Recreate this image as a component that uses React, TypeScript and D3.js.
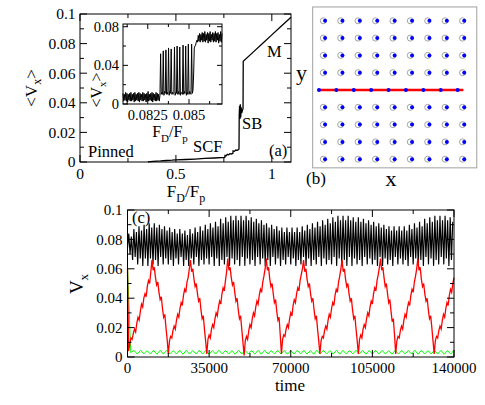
import React from 'react';
import * as d3 from 'd3';

// ---- panel (a): <Vx> vs FD/Fp ----
const fdMain = [0.354, 0.38, 0.40, 0.42, 0.45, 0.48, 0.50, 0.55, 0.60, 0.65, 0.70, 0.755, 0.756, 0.762, 0.768, 0.775,
  0.782, 0.79, 0.797, 0.798, 0.805, 0.812, 0.82, 0.828, 0.829, 0.830, 0.832, 0.834, 0.836, 0.838, 0.840, 0.843,
  0.847, 0.850, 0.851, 0.90, 0.95, 1.00, 1.05, 1.10];
const vxMain = [0.0001, 0.0004, 0.0006, 0.0007, 0.001, 0.0012, 0.0014, 0.0017, 0.0020, 0.0024, 0.0027, 0.0031, 0.0045,
  0.0042, 0.0052, 0.0049, 0.0056, 0.0054, 0.0058, 0.0075, 0.0072, 0.0081, 0.0079, 0.0085, 0.0095, 0.031, 0.038, 0.029,
  0.039, 0.030, 0.037, 0.033, 0.035, 0.036, 0.068, 0.0739, 0.0799, 0.0859, 0.0919, 0.0978];

// inset: <Vx> sampled every insetStep starting at insetStart
const insetStart = 0.081;
const insetStep = 0.00004;
const insetVx = [
  0.011, 0.003, 0.010, 0.004, 0.012, 0.003, 0.011, 0.002, 0.010, 0.004,
  0.011, 0.003, 0.012, 0.003, 0.010, 0.004, 0.011, 0.002, 0.012, 0.003,
  0.010, 0.004, 0.011, 0.003, 0.012, 0.002, 0.011, 0.004, 0.010, 0.003,
  0.012, 0.003, 0.011, 0.004, 0.010, 0.002, 0.011, 0.003, 0.013, 0.003,
  0.010, 0.004, 0.011, 0.003, 0.012, 0.002, 0.011, 0.004, 0.010, 0.003,
  0.012, 0.003, 0.011, 0.004, 0.010, 0.003,
  0.009, 0.052, 0.010, 0.012,
  0.010, 0.055, 0.009, 0.013, 0.011,
  0.056, 0.010, 0.012, 0.010,
  0.058, 0.009, 0.013, 0.011,
  0.057, 0.010, 0.012, 0.010, 0.011,
  0.059, 0.009, 0.012, 0.011,
  0.060, 0.010, 0.013, 0.010,
  0.059, 0.009, 0.012, 0.011, 0.010,
  0.061, 0.010, 0.013, 0.011,
  0.060, 0.009, 0.012, 0.010,
  0.062, 0.010, 0.013, 0.011, 0.010,
  0.062, 0.011, 0.014, 0.030, 0.058, 0.060,
  0.061, 0.064, 0.066, 0.064, 0.071, 0.065, 0.073, 0.064, 0.072, 0.066,
  0.074, 0.064, 0.073, 0.065, 0.075, 0.064, 0.072, 0.066, 0.074, 0.063,
  0.073, 0.065, 0.075, 0.064, 0.072, 0.066, 0.074, 0.064, 0.073, 0.065,
  0.075, 0.064, 0.073, 0.066, 0.074, 0.063, 0.072, 0.065, 0.075, 0.064,
  0.073,
];

// ---- panel (b): lattice picture, in pinning-lattice units ----
const pinCols = [0, 1, 2, 3, 4, 5, 6, 7, 8];
const pinRows = [-4, -3, -2, -1, 1, 2, 3, 4];
const vortexShift = 0.1;
const chainX = [-0.25, 0.75, 1.75, 2.75, 3.75, 4.75, 5.75, 6.75, 7.72];
const chainLine = [-0.29, 8.05];

// ---- panel (c): Vx vs time ----
const blackCycle = 1093.75; // low at k*cycle, high half a cycle later
const blackLow = [
  0.074, 0.070, 0.066, 0.068, 0.063, 0.067, 0.062, 0.067,
  0.062, 0.067, 0.063, 0.066, 0.062, 0.068, 0.063, 0.067,
  0.063, 0.066, 0.062, 0.067, 0.063, 0.068, 0.062, 0.066,
  0.062, 0.067, 0.063, 0.068, 0.062, 0.066, 0.063, 0.067,
  0.063, 0.068, 0.062, 0.067, 0.062, 0.066, 0.063, 0.068,
  0.062, 0.067, 0.063, 0.066, 0.062, 0.068, 0.062, 0.067,
  0.063, 0.066, 0.062, 0.068, 0.063, 0.067, 0.062, 0.066,
  0.062, 0.068, 0.063, 0.067, 0.062, 0.066, 0.063, 0.068,
  0.063, 0.067, 0.062, 0.066, 0.063, 0.068, 0.062, 0.067,
  0.062, 0.066, 0.063, 0.068, 0.062, 0.067, 0.063, 0.066,
  0.063, 0.068, 0.062, 0.067, 0.063, 0.066, 0.062, 0.068,
  0.062, 0.067, 0.063, 0.066, 0.062, 0.068, 0.063, 0.067,
  0.063, 0.066, 0.062, 0.068, 0.062, 0.067, 0.063, 0.066,
  0.062, 0.068, 0.063, 0.067, 0.063, 0.066, 0.062, 0.068,
  0.063, 0.067, 0.062, 0.066, 0.062, 0.068, 0.063, 0.067,
  0.062, 0.066, 0.063, 0.068, 0.063, 0.067, 0.062, 0.066,
];
const blackHigh = [
  0.084, 0.082, 0.087, 0.085, 0.089, 0.086, 0.090, 0.087,
  0.091, 0.088, 0.091, 0.088, 0.090, 0.087, 0.089, 0.086,
  0.088, 0.085, 0.087, 0.084, 0.087, 0.084, 0.086, 0.083,
  0.087, 0.084, 0.088, 0.085, 0.089, 0.086, 0.090, 0.087,
  0.091, 0.088, 0.092, 0.089, 0.094, 0.091, 0.095, 0.092,
  0.096, 0.093, 0.096, 0.093, 0.096, 0.093, 0.096, 0.093,
  0.095, 0.092, 0.094, 0.091, 0.093, 0.090, 0.091, 0.088,
  0.090, 0.087, 0.089, 0.086, 0.088, 0.085, 0.088, 0.085,
  0.088, 0.085, 0.088, 0.085, 0.089, 0.086, 0.090, 0.087,
  0.091, 0.088, 0.092, 0.089, 0.093, 0.090, 0.094, 0.091,
  0.095, 0.092, 0.096, 0.093, 0.096, 0.093, 0.096, 0.093,
  0.095, 0.092, 0.095, 0.092, 0.094, 0.091, 0.093, 0.090,
  0.092, 0.089, 0.091, 0.088, 0.090, 0.087, 0.089, 0.086,
  0.089, 0.086, 0.089, 0.086, 0.089, 0.086, 0.090, 0.087,
  0.091, 0.088, 0.092, 0.089, 0.094, 0.091, 0.095, 0.092,
  0.096, 0.093, 0.096, 0.093, 0.096, 0.093, 0.095, 0.092,
];

const redStep = 500;
const redVx = [
  0.060, 0.004, 0.009, 0.013, 0.012, 0.016, 0.019, 0.017, 0.023, 0.027,
  0.025, 0.031, 0.036, 0.034, 0.040, 0.043, 0.041, 0.048, 0.052, 0.050,
  0.058, 0.066, 0.059, 0.061, 0.054, 0.049, 0.051, 0.044, 0.039, 0.041,
  0.033, 0.027, 0.029, 0.020, 0.012, 0.002, 0.011, 0.014, 0.013, 0.018,
  0.021, 0.019, 0.025, 0.029, 0.027, 0.033, 0.037, 0.035, 0.042, 0.046,
  0.044, 0.051, 0.054, 0.060, 0.066, 0.058, 0.060, 0.053, 0.048, 0.050,
  0.043, 0.038, 0.040, 0.032, 0.026, 0.028, 0.019, 0.011, 0.002, 0.012,
  0.015, 0.013, 0.019, 0.022, 0.020, 0.026, 0.030, 0.028, 0.034, 0.038,
  0.036, 0.043, 0.047, 0.045, 0.052, 0.058, 0.067, 0.059, 0.061, 0.054,
  0.049, 0.051, 0.044, 0.038, 0.040, 0.032, 0.026, 0.028, 0.019, 0.010,
  0.001, 0.011, 0.014, 0.012, 0.018, 0.022, 0.020, 0.026, 0.030, 0.028,
  0.034, 0.038, 0.036, 0.042, 0.046, 0.044, 0.051, 0.055, 0.060, 0.067,
  0.059, 0.061, 0.053, 0.048, 0.050, 0.043, 0.037, 0.039, 0.031, 0.025,
  0.027, 0.015, 0.002, 0.012, 0.015, 0.014, 0.019, 0.022, 0.020, 0.026,
  0.030, 0.028, 0.035, 0.039, 0.037, 0.043, 0.047, 0.045, 0.052, 0.056,
  0.060, 0.066, 0.058, 0.060, 0.053, 0.048, 0.050, 0.043, 0.038, 0.040,
  0.032, 0.026, 0.028, 0.019, 0.011, 0.002, 0.011, 0.014, 0.013, 0.018,
  0.021, 0.019, 0.025, 0.029, 0.027, 0.033, 0.037, 0.035, 0.042, 0.046,
  0.044, 0.051, 0.055, 0.060, 0.066, 0.058, 0.060, 0.053, 0.048, 0.050,
  0.043, 0.038, 0.040, 0.032, 0.026, 0.028, 0.019, 0.011, 0.002, 0.012,
  0.015, 0.013, 0.019, 0.022, 0.020, 0.026, 0.030, 0.028, 0.034, 0.038,
  0.036, 0.043, 0.047, 0.045, 0.052, 0.056, 0.061, 0.067, 0.059, 0.061,
  0.054, 0.048, 0.050, 0.043, 0.037, 0.039, 0.031, 0.024, 0.026, 0.015,
  0.002, 0.011, 0.014, 0.013, 0.018, 0.021, 0.019, 0.025, 0.029, 0.027,
  0.033, 0.037, 0.035, 0.042, 0.046, 0.044, 0.051, 0.055, 0.060, 0.067,
  0.059, 0.061, 0.053, 0.048, 0.050, 0.043, 0.038, 0.040, 0.032, 0.026,
  0.028, 0.020, 0.011, 0.002, 0.011, 0.014, 0.013, 0.018, 0.021, 0.019,
  0.025, 0.029, 0.027, 0.033, 0.037, 0.035, 0.042, 0.046, 0.044, 0.050,
  0.054,
];

const greenStep = 1400;
const greenVx = [
  0.062, 0.003, 0.0045, 0.002, 0.0046, 0.0021, 0.0044, 0.002, 0.0045, 0.0019,
  0.0046, 0.002, 0.0045, 0.0021, 0.0044, 0.002, 0.0046, 0.0019, 0.0045, 0.002,
  0.0044, 0.0021, 0.0046, 0.002, 0.0045, 0.0019, 0.0044, 0.002, 0.0046, 0.0021,
  0.0045, 0.002, 0.0044, 0.0019, 0.0046, 0.002, 0.0045, 0.0021, 0.0044, 0.002,
  0.0046, 0.0019, 0.0045, 0.002, 0.0044, 0.0021, 0.0046, 0.002, 0.0045, 0.0019,
  0.0044, 0.002, 0.0046, 0.0021, 0.0045, 0.002, 0.0044, 0.0019, 0.0046, 0.002,
  0.0045, 0.0021, 0.0044, 0.002, 0.0046, 0.0019, 0.0045, 0.002, 0.0044, 0.0021,
  0.0046, 0.002, 0.0045, 0.0019, 0.0044, 0.002, 0.0046, 0.0021, 0.0045, 0.002,
  0.0044, 0.0019, 0.0046, 0.002, 0.0045, 0.0021, 0.0044, 0.002, 0.0046, 0.0019,
  0.0045, 0.002, 0.0044, 0.0021, 0.0046, 0.002, 0.0045, 0.0019, 0.0044, 0.002,
  0.0046,
];

const FONT = 'Liberation Serif';
const fmt = (v: number) => String(+v.toFixed(5));

type Lin = d3.ScaleLinear<number, number>;

// boxed axes with inward ticks on all four sides, labels bottom/left
function Frame(props: {
  xs: Lin; ys: Lin; xMajor: number[]; xMinor: number[]; yMajor: number[]; yMinor: number[];
  major: number; minor: number; fontSize: number; xLabelDy: number; yLabelDx: number;
}) {
  const { xs, ys, xMajor, xMinor, yMajor, yMinor, major, minor, fontSize, xLabelDy, yLabelDx } = props;
  const [x0, x1] = xs.range();
  const [y0, y1] = ys.range();
  const xt = (v: number, len: number, k: string) => (
    <g key={k}>
      <line x1={xs(v)} x2={xs(v)} y1={y0} y2={y0 - len} />
      <line x1={xs(v)} x2={xs(v)} y1={y1} y2={y1 + len} />
    </g>
  );
  const yt = (v: number, len: number, k: string) => (
    <g key={k}>
      <line x1={x0} x2={x0 + len} y1={ys(v)} y2={ys(v)} />
      <line x1={x1} x2={x1 - len} y1={ys(v)} y2={ys(v)} />
    </g>
  );
  return (
    <g>
      <g stroke="#000" strokeWidth={1}>
        <rect x={x0} y={y1} width={x1 - x0} height={y0 - y1} fill="none" />
        {xMajor.map((v, i) => xt(v, major, 'xM' + i))}
        {xMinor.map((v, i) => xt(v, minor, 'xm' + i))}
        {yMajor.map((v, i) => yt(v, major, 'yM' + i))}
        {yMinor.map((v, i) => yt(v, minor, 'ym' + i))}
      </g>
      <g style={{ fontFamily: FONT, fontSize }} fill="#000">
        {xMajor.map((v, i) => (
          <text key={'xl' + i} x={xs(v)} y={y0 + xLabelDy} textAnchor="middle">{fmt(v)}</text>
        ))}
        {yMajor.map((v, i) => (
          <text key={'yl' + i} x={x0 - yLabelDx} y={ys(v)} dy="0.35em" textAnchor="end">{fmt(v)}</text>
        ))}
      </g>
    </g>
  );
}

export default function App() {
  // panel (a)
  const xa = d3.scaleLinear().domain([0, 1.1]).range([80, 291]);
  const ya = d3.scaleLinear().domain([0, 0.1]).range([162, 14]);
  const lineA = d3.line<number>().x((_, i) => xa(fdMain[i])).y(d => ya(d));

  // inset
  const xi = d3.scaleLinear().domain([0.081, 0.087]).range([123, 222]);
  const yi = d3.scaleLinear().domain([0, 0.0828]).range([104, 24]);
  const lineI = d3.line<number>().x((_, i) => xi(insetStart + i * insetStep)).y(d => yi(d));

  // panel (b)
  const xb = d3.scaleLinear().domain([0, 8]).range([323.3, 462.5]);
  const yb = d3.scaleLinear().domain([4, -4]).range([20.8, 159.2]);

  // panel (c)
  const xc = d3.scaleLinear().domain([0, 140000]).range([127.5, 454]);
  const yc = d3.scaleLinear().domain([0, 0.1]).range([357, 210]);
  const blackPts: [number, number][] = blackLow.flatMap((lo, k) => [
    [k * blackCycle, lo] as [number, number],
    [k * blackCycle + blackCycle / 2, blackHigh[k]] as [number, number],
  ]);
  const lineC = d3.line<[number, number]>().x(d => xc(d[0])).y(d => yc(d[1]));
  const redPts = redVx.map((v, i) => [i * redStep, v] as [number, number]);
  const greenPts = greenVx.map((v, i) => [i * greenStep, v] as [number, number]);

  const vTicks = [0, 0.02, 0.04, 0.06, 0.08, 0.1];
  const vMinor = [0.01, 0.03, 0.05, 0.07, 0.09];
  const serif = { fontFamily: FONT };

  return (
    <svg width={485} height={405} style={{ position: 'absolute', left: 0, top: 0, background: '#fff', fontFamily: FONT }}>
      {/* (a) */}
      <path d={lineA(vxMain) || ''} fill="none" stroke="#000" strokeWidth={1.3} />
      <Frame xs={xa} ys={ya} xMajor={[0, 0.5, 1]} xMinor={[0.25, 0.75]} yMajor={vTicks} yMinor={vMinor}
        major={7} minor={4} fontSize={15.5} xLabelDy={16.5} yLabelDx={4.5} />
      <g style={{ ...serif, fontSize: 17 }} fill="#000">
        <text transform="translate(37,88) rotate(-90)" textAnchor="middle">
          <tspan>&lt;V</tspan><tspan dy={4} style={{ fontSize: 12 }}>x</tspan><tspan dy={-4}>&gt;</tspan>
        </text>
        <text x={186} y={197} textAnchor="middle">
          <tspan>F</tspan><tspan dy={5} style={{ fontSize: 12 }}>D</tspan><tspan dy={-5}>/F</tspan>
          <tspan dy={5} style={{ fontSize: 12 }}>p</tspan>
        </text>
        <text x={88} y={157} style={{ fontSize: 16.5 }}>Pinned</text>
        <text x={193} y={152} style={{ fontSize: 16.5 }}>SCF</text>
        <text x={242} y={129} style={{ fontSize: 16.5 }}>SB</text>
        <text x={267} y={57} style={{ fontSize: 16.5 }}>M</text>
        <text x={269} y={156} style={{ fontSize: 16.5 }}>(a)</text>
      </g>

      {/* inset */}
      <rect x={123} y={24} width={99} height={80} fill="#fff" />
      <path d={lineI(insetVx) || ''} fill="none" stroke="#000" strokeWidth={1} />
      <Frame xs={xi} ys={yi} xMajor={[0.0825, 0.085]} xMinor={[0.08125, 0.08375, 0.08625]}
        yMajor={[0, 0.04, 0.08]} yMinor={[0.02, 0.06]} major={5} minor={3} fontSize={14.5}
        xLabelDy={16} yLabelDx={4} />
      <g style={{ ...serif, fontSize: 16 }} fill="#000">
        <text transform="translate(102,90) rotate(-90)" textAnchor="middle">
          <tspan>&lt;V</tspan><tspan dy={4} style={{ fontSize: 11 }}>x</tspan><tspan dy={-4}>&gt;</tspan>
        </text>
        <text x={170} y={137} textAnchor="middle">
          <tspan>F</tspan><tspan dy={5} style={{ fontSize: 11 }}>D</tspan><tspan dy={-5}>/F</tspan>
          <tspan dy={5} style={{ fontSize: 11 }}>p</tspan>
        </text>
      </g>

      {/* (b) */}
      <rect x={xb(-0.61)} y={yb(4.8)} width={xb(8.82) - xb(-0.61)} height={yb(-4.5) - yb(4.8)}
        fill="none" stroke="#a0a0a0" strokeWidth={1} />
      {pinRows.map(r => pinCols.map(c => (
        <g key={r + '_' + c}>
          <circle cx={xb(c)} cy={yb(r)} r={3} fill="none" stroke="#8c8c8c" strokeWidth={0.8} />
          <circle cx={xb(c + vortexShift)} cy={yb(r)} r={2} fill="#0000ff" />
        </g>
      )))}
      <line x1={xb(chainLine[0])} x2={xb(chainLine[1])} y1={yb(0)} y2={yb(0)} stroke="#ff0000" strokeWidth={2.6} />
      {chainX.map((c, i) => <circle key={'ch' + i} cx={xb(c)} cy={yb(0)} r={2} fill="#0000ff" />)}
      <g style={serif} fill="#000">
        <text x={296} y={80} style={{ fontSize: 22 }}>y</text>
        <text x={391} y={186} style={{ fontSize: 22 }} textAnchor="middle">x</text>
        <text x={306} y={184} style={{ fontSize: 17 }}>(b)</text>
      </g>

      {/* (c) */}
      <path d={lineC(blackPts) || ''} fill="none" stroke="#000" strokeWidth={1.15} />
      <path d={lineC(greenPts) || ''} fill="none" stroke="#00ff00" strokeWidth={1} />
      <path d={lineC(redPts) || ''} fill="none" stroke="#ff0000" strokeWidth={1.3} />
      <Frame xs={xc} ys={yc} xMajor={[0, 35000, 70000, 105000, 140000]} xMinor={[17500, 52500, 87500, 122500]}
        yMajor={vTicks} yMinor={vMinor} major={7} minor={4} fontSize={15} xLabelDy={15.5} yLabelDx={5} />
      <g style={serif} fill="#000">
        <text transform="translate(83,284) rotate(-90)" textAnchor="middle" style={{ fontSize: 19 }}>
          <tspan>V</tspan><tspan dy={5} style={{ fontSize: 13 }}>x</tspan>
        </text>
        <text x={290} y={391} textAnchor="middle" style={{ fontSize: 17 }}>time</text>
        <text x={132} y={223} style={{ fontSize: 16.5 }}>(c)</text>
      </g>
    </svg>
  );
}
